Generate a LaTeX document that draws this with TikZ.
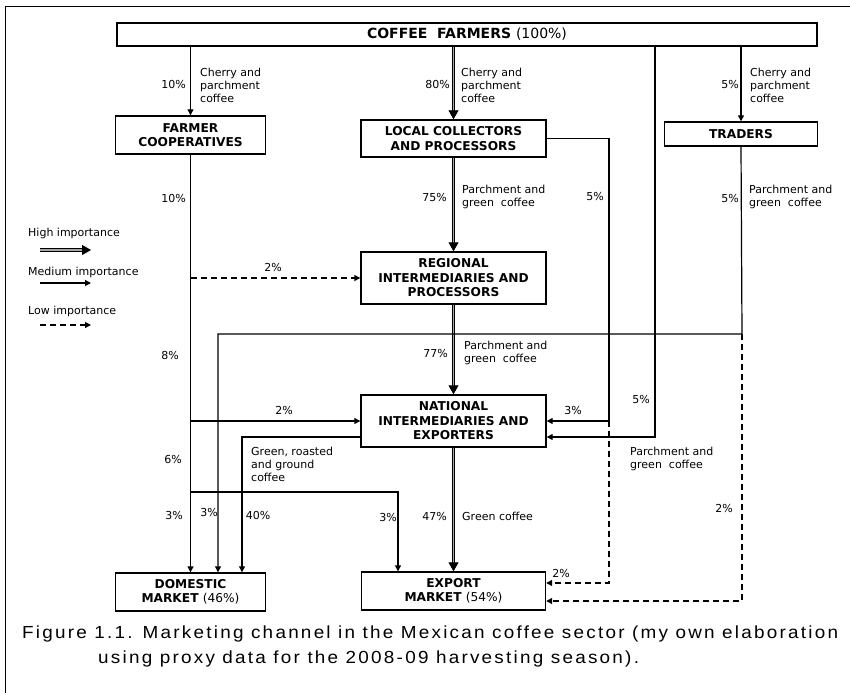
\documentclass[tikz,border=0pt]{standalone}
\usepackage{fontspec}
\setmainfont{DejaVu Sans}
\newfontfamily\capfont[LetterSpace=12.8,FakeStretch=1.08]{Liberation Sans}
\usetikzlibrary{arrows.meta}

\begin{document}
\begin{tikzpicture}[x=1bp,y=-1bp,
  box/.style={draw,line width=1.4bp,fill=white,align=center,inner sep=0pt,
    font=\fontsize{12.2bp}{14.5bp}\selectfont\bfseries},
  med/.style={line width=1.2bp,-{Triangle[length=6bp,width=6bp]}},
  low/.style={line width=1.2bp,dash pattern=on 6bp off 4bp,-{Triangle[length=6bp,width=6bp]}},
  high/.style={line width=0.9bp,double=gray!70,double distance=1.6bp,
    -{Triangle[length=9bp,width=10bp]}},
  lab/.style={inner sep=0pt,align=left,font=\fontsize{11bp}{13bp}\selectfont},
  pct/.style={inner sep=0pt,font=\fontsize{11bp}{13bp}\selectfont},
  captext/.style={inner sep=0pt,anchor=west,font=\capfont\fontsize{17.5bp}{20bp}\selectfont},
]
\useasboundingbox (0,0) rectangle (850,693);
% frame
\draw[line width=1bp] (5,693) -- (5,7) -- (850,7);

% boxes
\node[box,minimum width=700bp,minimum height=23bp] (farmers) at (467,34.5)
  {\fontsize{14bp}{16bp}\selectfont COFFEE\ \ FARMERS {\mdseries(100\%)}};
\node[box,minimum width=150bp,minimum height=38bp] (coop) at (190.5,135) {FARMER\\COOPERATIVES};
\node[box,minimum width=185bp,minimum height=37bp] (local) at (453.5,138.5) {LOCAL COLLECTORS\\AND PROCESSORS};
\node[box,minimum width=153bp,minimum height=24bp] (traders) at (741,134) {TRADERS};
\node[box,minimum width=185bp,minimum height=52bp] (regional) at (453.5,278) {REGIONAL\\INTERMEDIARIES AND\\PROCESSORS};
\node[box,minimum width=185bp,minimum height=52bp] (national) at (453.5,421) {NATIONAL\\INTERMEDIARIES AND\\EXPORTERS};
\node[box,minimum width=150bp,minimum height=38bp] (domestic) at (190.5,592) {DOMESTIC\\MARKET {\mdseries(46\%)}};
\node[box,minimum width=184bp,minimum height=38bp] (export) at (453.5,591) {EXPORT\\MARKET {\mdseries(54\%)}};

% bend points
\coordinate (fr) at (655,437);
\coordinate (lc) at (609,421);
\coordinate (ld) at (609,583);
\coordinate (tb) at (742,334);
\coordinate (td) at (218,334);
\coordinate (te) at (742,601);
\coordinate (c1) at (190.5,278);
\coordinate (c2) at (190.5,421);
\coordinate (c3) at (190.5,492);
\coordinate (c4) at (398,492);
\coordinate (n1) at (242,437);

% farmers to first buyers
\draw[med] (coop.north |- farmers.south) -- (coop.north);
\draw[high] (local.north |- farmers.south) -- (local.north);
\draw[med] (traders.north |- farmers.south) -- (traders.north);
\draw[med] (farmers.south -| fr) -- (fr) -- (fr -| national.east);

% main high-importance chain
\draw[high] (local.south) -- (regional.north);
\draw[high] (regional.south) -- (national.north);
\draw[high] (national.south) -- (export.north);

% local collectors side channel
\draw[med] (local.east) -| (lc) -- (lc -| national.east);
\draw[low] (lc) -- (ld) -- (ld -| export.east);

% traders
\draw[med] (traders.south) -- (tb) -- (td) -- (td |- domestic.north);
\draw[low] (tb) -- (te) -- (te -| export.east);

% cooperatives
\draw[med] (coop.south) -- (domestic.north);
\draw[low] (c1) -- (regional.west);
\draw[med] (c2) -- (national.west);
\draw[med] (c3) -- (c4) -- (c4 |- export.north);

% national to domestic
\draw[med] (national.west |- n1) -- (n1) -- (n1 |- domestic.north);

% flow labels
\node[pct,anchor=east] (p1) at (186,84) {10\%};
\node[lab,anchor=west] (t1) at (200,85) {Cherry and\\parchment\\coffee};
\node[pct,anchor=east] (p2) at (450,84) {80\%};
\node[lab,anchor=west] (t2) at (461,85) {Cherry and\\parchment\\coffee};
\node[pct,anchor=east] (p3) at (739,84) {5\%};
\node[lab,anchor=west] (t3) at (750,85) {Cherry and\\parchment\\coffee};
\node[pct,anchor=east] (p4) at (186,198) {10\%};
\node[pct,anchor=east] (p5) at (447,197) {75\%};
\node[lab,anchor=west] (t5) at (462,197) {Parchment and\\green\ \ coffee};
\node[pct] (p6) at (595,196) {5\%};
\node[pct,anchor=east] (p7) at (739,198) {5\%};
\node[lab,anchor=west] (t7) at (749,197) {Parchment and\\green\ \ coffee};
\node[pct] (p8) at (273,267) {2\%};
\node[pct] (p9) at (170,355) {8\%};
\node[pct,anchor=east] (p10) at (448,353) {77\%};
\node[lab,anchor=west] (t10) at (464,353) {Parchment and\\green\ \ coffee};
\node[pct] (p11) at (284,410) {2\%};
\node[pct] (p12) at (573,410) {3\%};
\node[pct] (p13) at (641,399) {5\%};
\node[lab,anchor=west] (t13) at (630,459) {Parchment and\\green\ \ coffee};
\node[lab,anchor=west] (t14) at (251,464) {Green, roasted\\and ground\\coffee};
\node[pct] (p15) at (173,459) {6\%};
\node[pct] (p16) at (174,515) {3\%};
\node[pct] (p17) at (209,512) {3\%};
\node[pct] (p18) at (258,515) {40\%};
\node[pct] (p19) at (388,517) {3\%};
\node[pct,anchor=east] (p20) at (447,516) {47\%};
\node[lab,anchor=west] (t20) at (462,516) {Green coffee};
\node[pct] (p21) at (724,508) {2\%};
\node[pct] (p22) at (561,573) {2\%};

% legend
\node[lab,anchor=west] (lh) at (28,233) {High importance};
\coordinate (lh1) at (40,250); \coordinate (lh2) at (91,250);
\draw[high] (lh1) -- (lh2);
\node[lab,anchor=west] (lm) at (28,272) {Medium importance};
\coordinate (lm1) at (40,283); \coordinate (lm2) at (91,283);
\draw[med] (lm1) -- (lm2);
\node[lab,anchor=west] (ll) at (28,311) {Low importance};
\coordinate (ll1) at (40,325); \coordinate (ll2) at (91,325);
\draw[low] (ll1) -- (ll2);

% caption
\node[captext] (cap1) at (22,634)
  {Figure 1.1. Marketing channel in the Mexican coffee sector (my own elaboration};
\node[captext] (cap2) at (98,659)
  {using proxy data for the 2008-09 harvesting season).};
\end{tikzpicture}
\end{document}
